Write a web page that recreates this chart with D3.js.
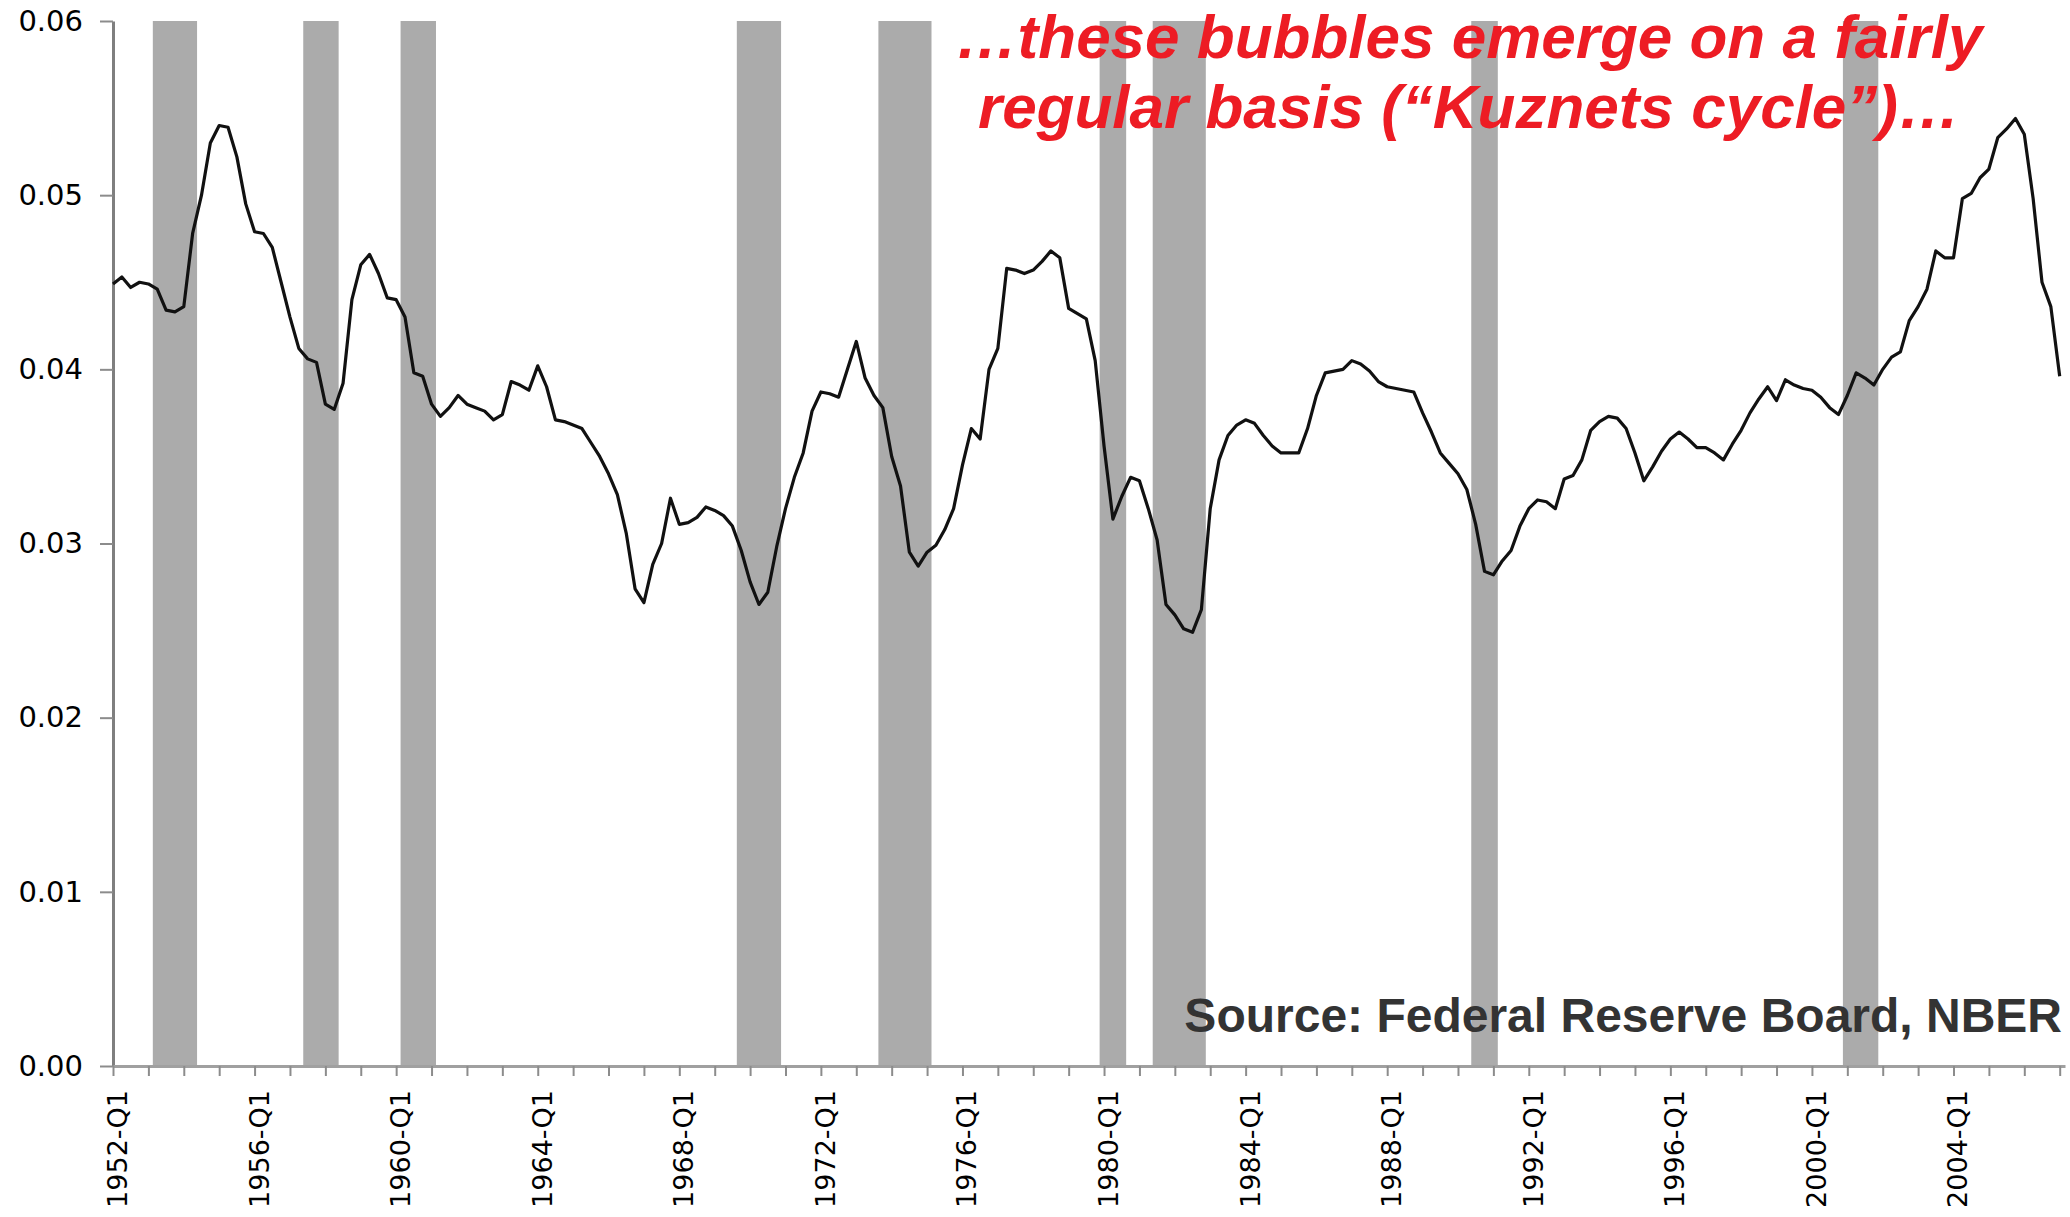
<!DOCTYPE html>
<html>
<head>
<meta charset="utf-8">
<script src="https://cdn.jsdelivr.net/npm/d3@7"></script>
<style>
  body { margin: 0; background: #fff; }
  svg { display: block; }
</style>
</head>
<body>
<svg id="chart" width="2070" height="1217"></svg>
<script>
// quarterly series, 1952-Q1 .. 2007-Q1
const startYear = 1952;
const values = [
  0.0449, 0.0453, 0.0447, 0.0450, // 1952
  0.0449, 0.0446, 0.0434, 0.0433, // 1953
  0.0436, 0.0478, 0.0500, 0.0530, // 1954
  0.0540, 0.0539, 0.0522, 0.0495, // 1955
  0.0479, 0.0478, 0.0470, 0.0450, // 1956
  0.0430, 0.0412, 0.0406, 0.0404, // 1957
  0.0380, 0.0377, 0.0392, 0.0440, // 1958
  0.0460, 0.0466, 0.0455, 0.0441, // 1959
  0.0440, 0.0430, 0.0398, 0.0396, // 1960
  0.0380, 0.0373, 0.0378, 0.0385, // 1961
  0.0380, 0.0378, 0.0376, 0.0371, // 1962
  0.0374, 0.0393, 0.0391, 0.0388, // 1963
  0.0402, 0.0390, 0.0371, 0.0370, // 1964
  0.0368, 0.0366, 0.0358, 0.0350, // 1965
  0.0340, 0.0328, 0.0306, 0.0274, // 1966
  0.0266, 0.0288, 0.0300, 0.0326, // 1967
  0.0311, 0.0312, 0.0315, 0.0321, // 1968
  0.0319, 0.0316, 0.0310, 0.0296, // 1969
  0.0278, 0.0265, 0.0272, 0.0298, // 1970
  0.0320, 0.0338, 0.0352, 0.0376, // 1971
  0.0387, 0.0386, 0.0384, 0.0400, // 1972
  0.0416, 0.0395, 0.0385, 0.0378, // 1973
  0.0350, 0.0333, 0.0295, 0.0287, // 1974
  0.0295, 0.0299, 0.0308, 0.0320, // 1975
  0.0345, 0.0366, 0.0360, 0.0400, // 1976
  0.0412, 0.0458, 0.0457, 0.0455, // 1977
  0.0457, 0.0462, 0.0468, 0.0464, // 1978
  0.0435, 0.0432, 0.0429, 0.0405, // 1979
  0.0356, 0.0314, 0.0327, 0.0338, // 1980
  0.0336, 0.0320, 0.0302, 0.0265, // 1981
  0.0259, 0.0251, 0.0249, 0.0262, // 1982
  0.0320, 0.0348, 0.0362, 0.0368, // 1983
  0.0371, 0.0369, 0.0362, 0.0356, // 1984
  0.0352, 0.0352, 0.0352, 0.0366, // 1985
  0.0385, 0.0398, 0.0399, 0.0400, // 1986
  0.0405, 0.0403, 0.0399, 0.0393, // 1987
  0.0390, 0.0389, 0.0388, 0.0387, // 1988
  0.0375, 0.0364, 0.0352, 0.0346, // 1989
  0.0340, 0.0331, 0.0311, 0.0284, // 1990
  0.0282, 0.0290, 0.0296, 0.0310, // 1991
  0.0320, 0.0325, 0.0324, 0.0320, // 1992
  0.0337, 0.0339, 0.0348, 0.0365, // 1993
  0.0370, 0.0373, 0.0372, 0.0366, // 1994
  0.0352, 0.0336, 0.0344, 0.0353, // 1995
  0.0360, 0.0364, 0.0360, 0.0355, // 1996
  0.0355, 0.0352, 0.0348, 0.0357, // 1997
  0.0365, 0.0375, 0.0383, 0.0390, // 1998
  0.0382, 0.0394, 0.0391, 0.0389, // 1999
  0.0388, 0.0384, 0.0378, 0.0374, // 2000
  0.0385, 0.0398, 0.0395, 0.0391, // 2001
  0.0400, 0.0407, 0.0410, 0.0428, // 2002
  0.0436, 0.0446, 0.0468, 0.0464, // 2003
  0.0464, 0.0498, 0.0501, 0.0510, // 2004
  0.0515, 0.0533, 0.0538, 0.0544, // 2005
  0.0535, 0.0498, 0.0450, 0.0436, // 2006
  0.0396                          // 2007
];

// NBER recessions, peak quarter to trough quarter
const recessions = [
  ["1953Q2", "1954Q2"],
  ["1957Q3", "1958Q2"],
  ["1960Q2", "1961Q1"],
  ["1969Q4", "1970Q4"],
  ["1973Q4", "1975Q1"],
  ["1980Q1", "1980Q3"],
  ["1981Q3", "1982Q4"],
  ["1990Q3", "1991Q1"],
  ["2001Q1", "2001Q4"]
];

const yTicks = [0, 0.01, 0.02, 0.03, 0.04, 0.05, 0.06];
const xTickLabels = ["1952-Q1", "1956-Q1", "1960-Q1", "1964-Q1", "1968-Q1", "1972-Q1", "1976-Q1",
  "1980-Q1", "1984-Q1", "1988-Q1", "1992-Q1", "1996-Q1", "2000-Q1", "2004-Q1"];
const titleLines = ["\u2026these bubbles emerge on a fairly", "regular basis (\u201cKuznets cycle\u201d)\u2026"];
const sourceText = "Source: Federal Reserve Board, NBER";

const svg = d3.select("#chart");
const plotLeft = 113, plotRight = 2065, plotTop = 21, plotBottom = 1066;

const quarterIndex = q => (+q.slice(0, 4) - startYear) * 4 + (+q.slice(5) - 1);

const x = d3.scaleLinear()
  .domain([0, values.length - 0.4])
  .range([plotLeft, plotRight]);

const y = d3.scaleLinear()
  .domain([0, 0.06])
  .range([plotBottom, plotTop]);

// recession bands
svg.append("g")
  .selectAll("rect")
  .data(recessions)
  .enter()
  .append("rect")
  .attr("x", d => x(quarterIndex(d[0]) - 0.5))
  .attr("width", d => x(quarterIndex(d[1]) + 0.5) - x(quarterIndex(d[0]) - 0.5))
  .attr("y", y(0.06))
  .attr("height", y(0) - y(0.06))
  .attr("fill", "#ababab");

// y axis
const yAxis = svg.append("g")
  .attr("transform", `translate(${plotLeft},0)`)
  .call(d3.axisLeft(y)
    .tickValues(yTicks)
    .tickFormat(d3.format(".2f"))
    .tickSize(13)
    .tickSizeOuter(0)
    .tickPadding(17));

yAxis.select(".domain").attr("stroke", "#7f7f7f").attr("stroke-width", 3);
yAxis.selectAll(".tick line").attr("stroke", "#8c8c8c").attr("stroke-width", 2);
yAxis.selectAll(".tick text")
  .attr("font-family", "'DejaVu Sans', Verdana, sans-serif")
  .attr("font-size", 29)
  .attr("fill", "#000");

// x axis, yearly ticks, label every 4 years
const xAxis = svg.append("g")
  .attr("transform", `translate(0,${plotBottom})`)
  .call(d3.axisBottom(x)
    .tickValues(d3.range(0, values.length, 4))
    .tickFormat(d => d % 16 === 0 ? xTickLabels[d / 16] : "")
    .tickSize(10)
    .tickSizeOuter(0));

xAxis.select(".domain").attr("stroke", "#a0a0a0").attr("stroke-width", 3);
xAxis.selectAll(".tick line").attr("stroke", "#8c8c8c").attr("stroke-width", 2);
xAxis.selectAll(".tick text")
  .attr("font-family", "'DejaVu Sans', Verdana, sans-serif")
  .attr("font-size", 27)
  .attr("fill", "#000")
  .attr("text-anchor", "end")
  .attr("transform", "rotate(-90)")
  .attr("x", -24)
  .attr("y", 4)
  .attr("dy", "0.35em");

// the series
const line = d3.line()
  .x((d, i) => x(i))
  .y(d => y(d));

svg.append("path")
  .datum(values)
  .attr("d", line)
  .attr("fill", "none")
  .attr("stroke", "#111")
  .attr("stroke-width", 3.2)
  .attr("stroke-linejoin", "round");

// annotation, two lines
svg.append("g")
  .selectAll("text")
  .data(titleLines)
  .enter()
  .append("text")
  .attr("x", 1469)
  .attr("y", (d, i) => 58 + i * 70)
  .attr("text-anchor", "middle")
  .attr("font-family", "'Liberation Sans', Arial, sans-serif")
  .attr("font-weight", "bold")
  .attr("font-style", "italic")
  .attr("font-size", 62)
  .attr("fill", "#ed1c24")
  .text(d => d);

svg.append("text")
  .attr("x", 2062)
  .attr("y", 1032)
  .attr("text-anchor", "end")
  .attr("font-family", "'Liberation Sans', Arial, sans-serif")
  .attr("font-weight", "bold")
  .attr("font-size", 48)
  .attr("fill", "#333")
  .text(sourceText);
</script>
</body>
</html>
